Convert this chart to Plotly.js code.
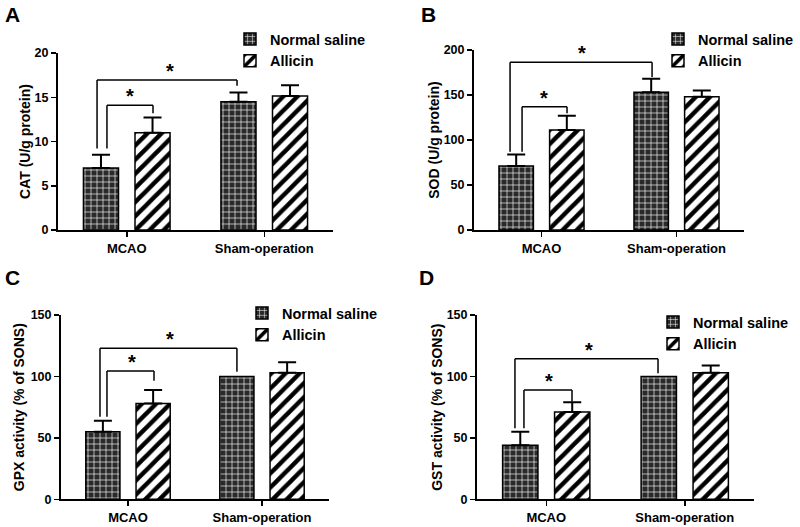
<!DOCTYPE html>
<html>
<head>
<meta charset="utf-8">
<script src="https://cdn.plot.ly/plotly-3.0.1.min.js"></script>
<style>html,body{margin:0;padding:0;background:#fff}#chart{width:800px;height:527px}</style>
</head>
<body>
<div id="chart"></div>
<script>
// ---------- data ----------
const categories = ['MCAO', 'Sham-operation'];
const seriesNames = ['Normal saline', 'Allicin'];

const catSaline = [7.0, 14.5];
const catSalineErr = [1.5, 1.05];
const catAllicin = [11.0, 15.15];
const catAllicinErr = [1.7, 1.2];

const sodSaline = [71, 153];
const sodSalineErr = [13, 15];
const sodAllicin = [111, 148];
const sodAllicinErr = [16, 7];

const gpxSaline = [55, 100];
const gpxSalineErr = [9, null];
const gpxAllicin = [78, 103];
const gpxAllicinErr = [11, 8.5];

const gstSaline = [44, 100];
const gstSalineErr = [11, null];
const gstAllicin = [71, 103];
const gstAllicinErr = [8, 6];

const yTitles = ['CAT (U/g protein)', 'SOD (U/g protein)', 'GPX activity (% of SONS)', 'GST activity (% of SONS)'];
const yMax = [20, 200, 150, 150];
const yDtick = [5, 50, 50, 50];
const panelLetters = ['A', 'B', 'C', 'D'];

// significance brackets: [xLeft, xRight, yTop, yLeftBottom, yRightBottom]
const bracketsA = [[-0.216, 0.802, 16.95, 9.2, 16.3], [-0.144, 0.191, 14.1, 9.2, 13.2]];
const bracketsB = [[-0.233, 0.819, 186.3, 87, 170], [-0.144, 0.189, 137, 87, 129.7]];
const bracketsC = [[-0.209, 0.813, 122.9, 67.2, 103.9], [-0.157, 0.194, 104.4, 67.2, 96.5]];
const bracketsD = [[-0.226, 0.807, 114.4, 57.8, 102.5], [-0.161, 0.186, 89, 57.8, 79.4]];
// star x positions for [outer, inner]
const starsX = [[0.315, 0.024], [0.30, 0.02], [0.313, 0.03], [0.309, 0.02]];

// ---------- layout geometry ----------
const W = 800, H = 527;
const panels = [
  {xd: [58, 333], yd: [53, 230], legend: [230, 23], letter: [12, 15], sal: catSaline, salE: catSalineErr, all: catAllicin, allE: catAllicinErr, br: bracketsA},
  {xd: [474, 744], yd: [50, 230], legend: [658, 23], letter: [428, 15], sal: sodSaline, salE: sodSalineErr, all: sodAllicin, allE: sodAllicinErr, br: bracketsB},
  {xd: [61, 329], yd: [315, 499.3], legend: [242, 297], letter: [12, 277], sal: gpxSaline, salE: gpxSalineErr, all: gpxAllicin, allE: gpxAllicinErr, br: bracketsC},
  {xd: [477, 754], yd: [315, 499.3], legend: [653, 306], letter: [426, 277], sal: gstSaline, salE: gstSalineErr, all: gstAllicin, allE: gstAllicinErr, br: bracketsD}
];
const titleStandoff = [1, 1, 3, 1];

const FONT = 'Liberation Sans, Arial, Helvetica, sans-serif';
const BAR_W = 0.255;
const OFFSETS = [-0.315, 0.06];

function errBar(arr) {
  return {
    type: 'data', symmetric: false,
    array: arr.map(v => v === null ? NaN : v),
    arrayminus: arr.map(v => v === null ? NaN : 0),
    color: '#000', thickness: 2, width: 9
  };
}

const traces = [];
const layout = {
  width: W, height: H,
  margin: {l: 0, r: 0, t: 0, b: 0},
  paper_bgcolor: '#fff', plot_bgcolor: 'rgba(0,0,0,0)',
  font: {family: FONT, color: '#000', weight: 700},
  barmode: 'overlay',
  showlegend: true,
  shapes: [], annotations: []
};

panels.forEach((p, i) => {
  const n = i === 0 ? '' : String(i + 1);
  const xa = 'x' + n, ya = 'y' + n;
  const lg = 'legend' + n;
  traces.push({
    type: 'bar', x: categories, y: p.sal, name: seriesNames[0],
    xaxis: xa, yaxis: ya, legend: lg,
    offset: OFFSETS[0], width: BAR_W,
    marker: {color: '#2a2a2a', line: {color: '#000', width: 1.5},
      pattern: {shape: '+', fgcolor: '#ffffff', bgcolor: '#2a2a2a', size: 6, solidity: 0.2, fillmode: 'replace'}},
    error_y: errBar(p.salE)
  });
  traces.push({
    type: 'bar', x: categories, y: p.all, name: seriesNames[1],
    xaxis: xa, yaxis: ya, legend: lg,
    offset: OFFSETS[1], width: BAR_W,
    marker: {color: '#ffffff', line: {color: '#000', width: 1.5},
      pattern: {shape: '/', fgcolor: '#000000', bgcolor: '#ffffff', size: 10, solidity: 0.45, fillmode: 'replace'}},
    error_y: errBar(p.allE)
  });

  layout['xaxis' + n] = {
    domain: [p.xd[0] / W, p.xd[1] / W], anchor: ya,
    type: 'category', range: [-0.5, 1.5], fixedrange: true,
    showline: true, linecolor: '#000', linewidth: 2,
    ticks: 'outside', ticklen: 5, tickwidth: 1.5, tickcolor: '#000',
    showgrid: false, zeroline: false,
    tickfont: {family: FONT, size: 13, weight: 700, color: '#000'}
  };
  layout['yaxis' + n] = {
    domain: [1 - p.yd[1] / H, 1 - p.yd[0] / H], anchor: xa,
    range: [0, yMax[i]], dtick: yDtick[i], tick0: 0, fixedrange: true,
    showline: true, linecolor: '#000', linewidth: 2,
    ticks: 'outside', ticklen: 5, tickwidth: 1.5, tickcolor: '#000',
    showgrid: false, zeroline: false,
    tickfont: {family: FONT, size: 12.5, weight: 700, color: '#000'},
    title: {text: yTitles[i], font: {family: FONT, size: 14, weight: 700, color: '#000'}, standoff: titleStandoff[i]}
  };
  layout[lg] = {
    x: p.legend[0] / W, y: 1 - p.legend[1] / H, xanchor: 'left', yanchor: 'top',
    bgcolor: 'rgba(0,0,0,0)', borderwidth: 0,
    font: {family: FONT, size: 14.5, weight: 700, color: '#000'},
    tracegroupgap: 0
  };

  p.br.forEach((b, k) => {
    const ln = {color: '#000', width: 1.5};
    layout.shapes.push({type: 'line', xref: xa, yref: ya, x0: b[0], x1: b[0], y0: b[3], y1: b[2], line: ln});
    layout.shapes.push({type: 'line', xref: xa, yref: ya, x0: b[0], x1: b[1], y0: b[2], y1: b[2], line: ln});
    layout.shapes.push({type: 'line', xref: xa, yref: ya, x0: b[1], x1: b[1], y0: b[2], y1: b[4], line: ln});
    layout.annotations.push({
      xref: xa, yref: ya, x: starsX[i][k], y: b[2], yanchor: 'bottom', xanchor: 'center',
      text: '*', showarrow: false, yshift: -4,
      font: {family: FONT, size: 20, weight: 700, color: '#000'}
    });
  });

  layout.annotations.push({
    xref: 'paper', yref: 'paper', x: p.letter[0] / W, y: 1 - p.letter[1] / H,
    xanchor: 'center', yanchor: 'middle', text: panelLetters[i], showarrow: false,
    font: {family: FONT, size: 21, weight: 700, color: '#000'}
  });
});

Plotly.newPlot('chart', traces, layout, {displayModeBar: false, staticPlot: true});
</script>
</body>
</html>
